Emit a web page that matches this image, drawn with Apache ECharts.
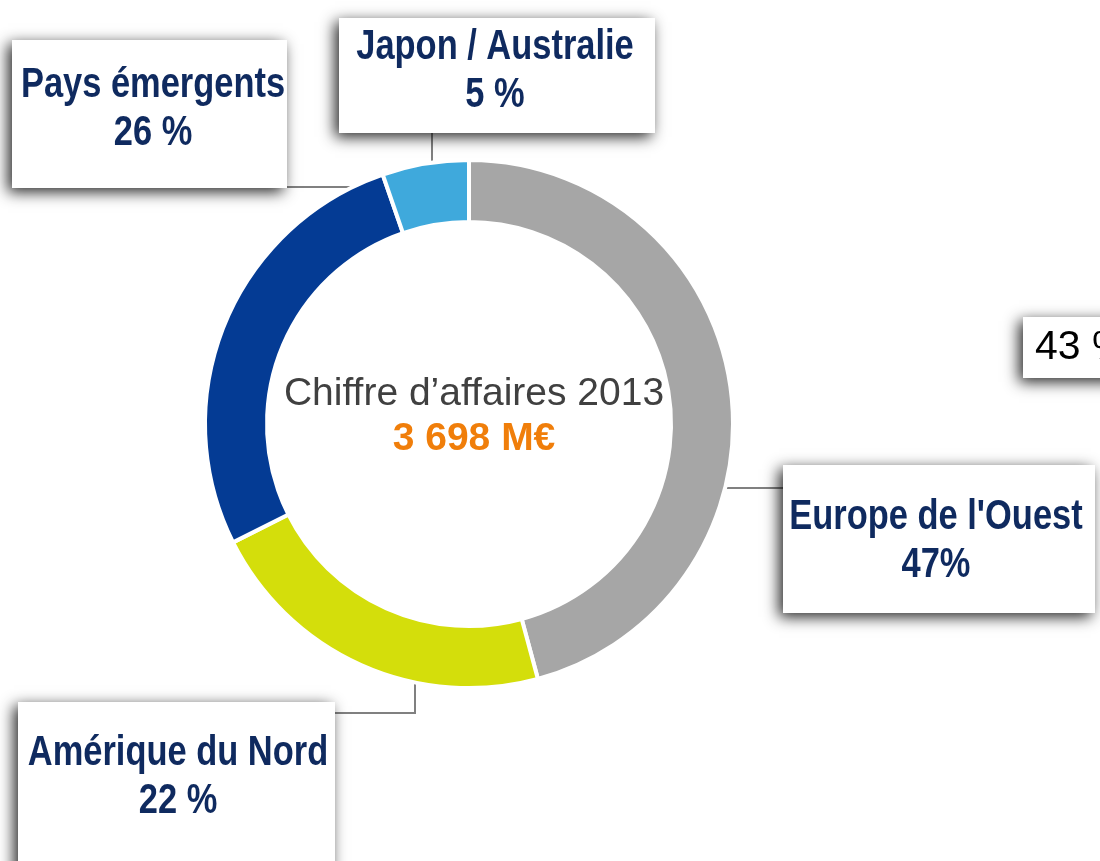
<!DOCTYPE html>
<html>
<head>
<meta charset="utf-8">
<script src="https://cdn.jsdelivr.net/npm/echarts@6/dist/echarts.min.js"></script>
<style>
  html, body { margin: 0; padding: 0; background: #fff; }
  #main { width: 1100px; height: 861px; }
</style>
</head>
<body>
<div id="main"></div>
<script>
// regions, slice sizes (as drawn) and the percentages printed in the callouts
const regions = ['Europe de l\'Ouest', 'Amérique du Nord', 'Pays émergents', 'Japon / Australie'];
const shares = [45.8, 21.8, 27.1, 5.3];
const pctLabels = ['47%', '22 %', '26 %', '5 %'];
const colors = ['#a6a6a6', '#d4de0b', '#043b94', '#3fa9dc'];

const centerTitle = 'Chiffre d\u2019affaires 2013';
const centerValue = '3 698 M€';

// callout boxes: rect, text centre/top, leader line
const boxes = [
  { x: 783, y: 465, w: 312, h: 148, tx: 936, ty: 493, line: [[723, 488], [783, 488]] },
  { x: 18, y: 702, w: 317, h: 200, tx: 178, ty: 729, line: [[415, 668], [415, 713], [335, 713]] },
  { x: 12, y: 40, w: 275, h: 148, tx: 153, ty: 61, line: [[358, 187], [287, 187]] },
  { x: 339, y: 18, w: 316, h: 115, tx: 495, ty: 23, line: [[432, 180], [432, 133]] }
];

const labelFont = 'bold 42px "Liberation Sans", Arial, sans-serif';
const boxShadow = { shadowBlur: 14, shadowColor: 'rgba(0,0,0,0.85)', shadowOffsetX: -4, shadowOffsetY: 4 };

const chart = echarts.init(document.getElementById('main'));

const callouts = [];
regions.forEach((name, i) => {
  const b = boxes[i];
  callouts.push({
    type: 'polyline', silent: true, z: 1,
    shape: { points: b.line },
    style: { stroke: '#808080', lineWidth: 2, fill: null }
  });
  callouts.push({
    type: 'rect', silent: true, z: 2,
    shape: { x: b.x, y: b.y, width: b.w, height: b.h },
    style: Object.assign({ fill: '#fff' }, boxShadow)
  });
  callouts.push({
    type: 'text', silent: true, z: 3,
    x: b.tx, y: b.ty, scaleX: 0.82,
    style: {
      text: name + '\n' + pctLabels[i],
      font: labelFont, lineHeight: 48,
      fill: '#0f2a5f', align: 'center', verticalAlign: 'top'
    }
  });
});

const option = {
  animation: false,
  series: [{
    type: 'pie',
    center: [469, 424],
    radius: [202, 264],
    startAngle: 90,
    clockwise: true,
    emphasis: { disabled: true },
    itemStyle: { borderColor: '#fff', borderWidth: 4 },
    label: { show: false },
    labelLine: { show: false },
    data: regions.map((name, i) => ({ name: name, value: shares[i], itemStyle: { color: colors[i] } }))
  }],
  graphic: callouts.concat([
    {
      type: 'text', x: 474, y: 394, silent: true,
      style: { text: centerTitle, fill: '#404040', font: '39px "Liberation Sans", Arial, sans-serif', align: 'center', verticalAlign: 'middle' }
    },
    {
      type: 'text', x: 474, y: 439, silent: true,
      style: { text: centerValue, fill: '#f07e0a', font: 'bold 39px "Liberation Sans", Arial, sans-serif', align: 'center', verticalAlign: 'middle' }
    },
    {
      type: 'rect', shape: { x: 1023, y: 317, width: 120, height: 61 }, silent: true,
      style: Object.assign({ fill: '#fff' }, boxShadow)
    },
    {
      type: 'text', x: 1035, y: 348, silent: true,
      style: { text: '43 %', fill: '#000', font: '41px "Liberation Sans", Arial, sans-serif', verticalAlign: 'middle' }
    }
  ])
};

chart.setOption(option);
</script>
</body>
</html>
